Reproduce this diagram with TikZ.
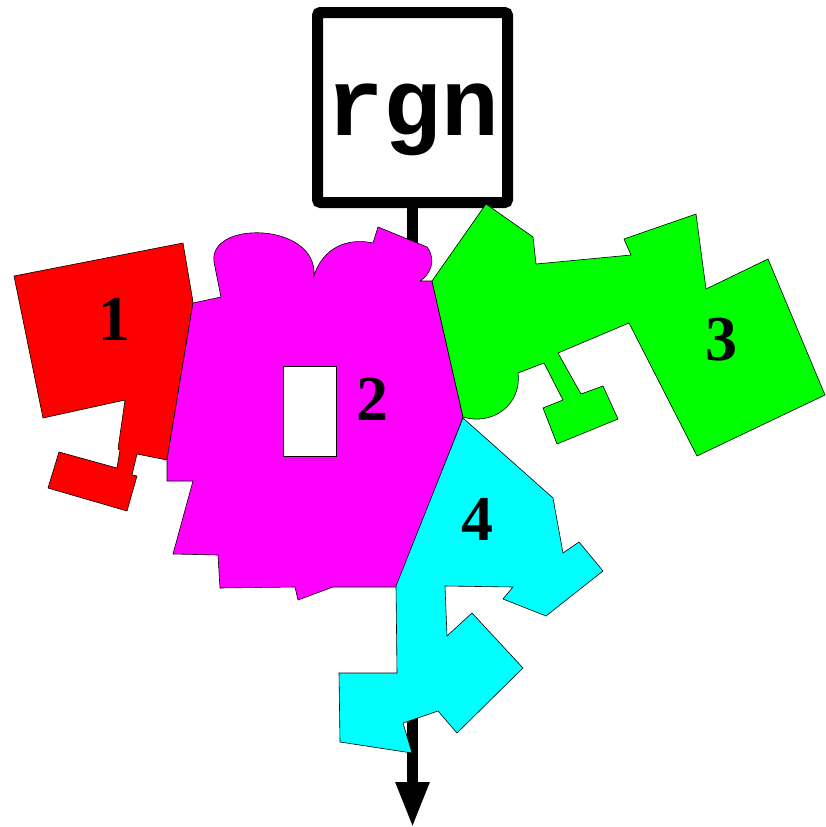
\documentclass[tikz,border=0pt]{standalone}
\usepackage{fontspec}
\setmainfont{Liberation Serif}
\newfontfamily\codefont{Liberation Mono}
\usepackage{tikz}
\usetikzlibrary{arrows.meta}
\definecolor{regred}{RGB}{255,0,0}
\definecolor{regmagenta}{RGB}{255,0,255}
\definecolor{reggreen}{RGB}{0,255,0}
\definecolor{regcyan}{RGB}{0,255,255}

\begin{document}
\begin{tikzpicture}[x=1pt, y=-1pt,
    region/.style={draw=black, line width=0.6pt, line join=miter},
    num/.style={font=\fontsize{64}{64}\selectfont\bfseries, inner sep=0pt}]
    \useasboundingbox (0,0) rectangle (825,827);

    % 盒子 rgn
    \node[draw, line width=11pt, rounded corners=3pt, minimum width=190pt, minimum height=190pt,
          inner sep=0pt, text height=60pt, text depth=5pt,
          font=\fontsize{96}{96}\selectfont\codefont\bfseries] (rgn) at (412.5,107.5) {rgn};

    % 箭头
    \coordinate (tip) at (412.5,828);
    \draw[line width=11pt, -{Triangle[length=46pt 0 0, width=31pt 0 0]}] (rgn.south) -- (tip);

    % 区域 1
    \filldraw[region, fill=regred] (14,276) -- (183,243) -- (193,302) -- (167,460) -- (137,454)
        -- (132,475) -- (137,476) -- (127,511) -- (48,488) -- (59,452) -- (117,468)
        -- (120,450) -- (118,449) -- (125,400) -- (43,418) -- cycle;

    % 区域 2
    \filldraw[region, fill=regmagenta] (193,303) -- (221,297) -- (214,262)
        .. controls (208,220) and (318,222) .. (314,276)
        .. controls (320,255) and (340,236) .. (373,243)
        -- (378,227) -- (427,247) .. controls (437,260) and (430,275) .. (420,281)
        -- (432,281) -- (463,417) -- (397,587) -- (333,587) -- (298,600) -- (295,587)
        -- (220,588) -- (218,555) -- (173,554) -- (193,481) -- (167,481) -- (167,460) -- cycle;
    \filldraw[region, fill=white] (283,366) rectangle (336,456);

    % 区域 3
    \filldraw[region, fill=reggreen] (432,281) -- (486,204) -- (533,237) -- (536,264) -- (631,255)
        -- (624,239) -- (696,214) -- (706,289) -- (768,259) -- (825,395) -- (697,456)
        -- (629,323) -- (558,353) -- (581,394) -- (603,386) -- (618,419) -- (557,444)
        -- (543,408) -- (563,400) -- (544,363) -- (518,373)
        .. controls (522,405) and (492,426) .. (463,417) -- cycle;

    % 区域 4
    \filldraw[region, fill=regcyan] (463,418) -- (553,498) -- (563,553) -- (579,542) -- (603,571)
        -- (546,616) -- (503,599) -- (513,587) -- (445,586) -- (447,636) -- (472,613)
        -- (523,668) -- (457,733) -- (438,711) -- (403,723) -- (412,753) -- (340,742)
        -- (339,673) -- (397,673) -- (396,586) -- cycle;

    % 编号
    \node[num] (n1) at (114,319) {1};
    \node[num] (n2) at (372,399) {2};
    \node[num] (n3) at (721,340) {3};
    \node[num] (n4) at (477,519) {4};
\end{tikzpicture}
\end{document}
